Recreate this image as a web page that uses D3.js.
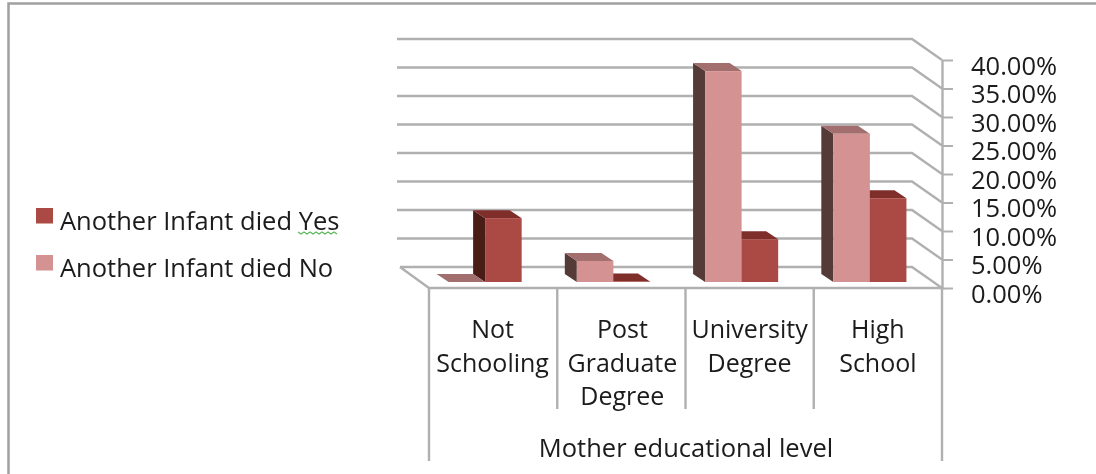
<!DOCTYPE html>
<html>
<head>
<meta charset="utf-8">
<script src="https://cdn.jsdelivr.net/npm/d3@7"></script>
<style>
  html, body { margin: 0; padding: 0; background: #fff; }
  svg { display: block; }
  text { font-family: "Open Sans", sans-serif; fill: #1a1a1a; }
</style>
</head>
<body>
<script>
// chart data
const categories = ["Not Schooling", "Post Graduate Degree", "University Degree", "High School"];
const categoryLines = [["Not", "Schooling"], ["Post", "Graduate", "Degree"], ["University", "Degree"], ["High", "School"]];
const seriesNames = ["Another Infant died No", "Another Infant died Yes"];
const legendOrder = ["Another Infant died Yes", "Another Infant died No"];
const valuesNo = [0, 3.7, 37, 26];
const valuesYes = [11.2, 0.1, 7.5, 14.7];
const yTicks = [0, 5, 10, 15, 20, 25, 30, 35, 40];
const axisTitle = "Mother educational level";

// size variables
const width = 1096, height = 474;
const left = 429, right = 942;      // front edge of the floor
const depthX = 30, depthY = 21;     // how far the back wall sits from the front
const barDepthX = 12, barDepthY = 8; // depth of a bar
const planeX = 8, planeY = 6;       // bars stand a bit behind the front edge
const fontSize = 25.5;

const colours = {
  "Another Infant died Yes": { front: "#ab4a45", top: "#7f2e2c", side: "#4a1b18" },
  "Another Infant died No": { front: "#d49392", top: "#a26e6e", side: "#553a39" }
};
const gridCol = "#b0b0b0";

const svg = d3.select("body").append("svg").attr("width", width).attr("height", height);
const soft = svg.append("defs").append("filter").attr("id", "soft");
soft.append("feGaussianBlur").attr("stdDeviation", 0.5);

const chart = svg.append("g").attr("filter", "url(#soft)");

// outer frame
chart.append("path")
  .attr("d", "M8.5,474V3.5H1096")
  .attr("fill", "none").attr("stroke", "#a0a0a0").attr("stroke-width", 2.5);

const y = d3.scaleLinear().domain([0, 40]).range([288, 60]);
const x = d3.scaleBand().domain(categories).range([left, right]);
const xBars = d3.scaleBand().domain(categories).range([left - planeX, right - planeX]).paddingInner(0.43).paddingOuter(0.215);
const xInner = d3.scaleBand().domain(seriesNames).range([0, xBars.bandwidth()]);

// walls: gridlines on the back, and the slanted bit on the right
yTicks.forEach((t) => {
  const py = y(t);
  const pts = t === 0
    ? [[left - depthX + 1, py - depthY], [left, py], [right, py], [right - depthX, py - depthY], [left - depthX + 1, py - depthY]]
    : [[left - depthX - 2, py - depthY], [right - depthX, py - depthY], [right, py]];
  chart.append("path")
    .attr("d", d3.line()(pts))
    .attr("fill", "none").attr("stroke", gridCol).attr("stroke-width", 2.4);
});

// bars
categories.forEach((c, i) => {
  // Yes goes first so the No bar hides the side of it
  [seriesNames[1], seriesNames[0]].forEach((s) => {
    const v = s === seriesNames[0] ? valuesNo[i] : valuesYes[i];
    const col = colours[s];
    const x0 = xBars(c) + xInner(s), x1 = x0 + xInner.bandwidth();
    const yBase = y(0) - planeY, yTop = y(v) - planeY;
    const g = chart.append("g");
    g.append("path").attr("fill", col.side)
      .attr("d", d3.line()([[x0, yBase], [x0, yTop], [x0 - barDepthX, yTop - barDepthY], [x0 - barDepthX, yBase - barDepthY]]) + "Z");
    g.append("path").attr("fill", col.top)
      .attr("d", d3.line()([[x0, yTop], [x1, yTop], [x1 - barDepthX, yTop - barDepthY], [x0 - barDepthX, yTop - barDepthY]]) + "Z");
    g.append("rect").attr("fill", col.front)
      .attr("x", x0).attr("y", yTop).attr("width", x1 - x0).attr("height", yBase - yTop);
  });
});

// value axis
const yAxis = d3.axisRight(y).tickValues(yTicks).tickSizeInner(11).tickSizeOuter(0).tickPadding(18)
  .tickFormat((d) => d.toFixed(2) + "%");
const axisG = chart.append("g").attr("transform", `translate(${right},0)`).call(yAxis);
axisG.select(".domain").attr("stroke", gridCol).attr("stroke-width", 2.4);
axisG.selectAll(".tick line").attr("stroke", gridCol).attr("stroke-width", 2);
axisG.selectAll(".tick text")
  .attr("font-size", fontSize).attr("dy", "0.56em").attr("fill", "#1a1a1a")
  .style("font-family", '"Open Sans", sans-serif');

// category dividers
d3.range(categories.length + 1).forEach((i) => {
  const px = i === categories.length ? right : x(categories[i]);
  const outer = i === 0 || i === categories.length;
  chart.append("line")
    .attr("x1", px).attr("x2", px).attr("y1", 288).attr("y2", outer ? 461 : 409)
    .attr("stroke", gridCol).attr("stroke-width", 2.4);
});

// category labels
const labelNudge = [-0.5, 1, 0, 0];
categories.forEach((c, i) => {
  categoryLines[i].forEach((line, j) => {
    chart.append("text")
      .attr("x", x(c) + x.bandwidth() / 2 + labelNudge[i])
      .attr("y", 338 + j * 33.5)
      .attr("text-anchor", "middle").attr("font-size", fontSize - 0.5)
      .text(line);
  });
});

chart.append("text")
  .attr("x", 686).attr("y", 457)
  .attr("text-anchor", "middle").attr("font-size", fontSize)
  .text(axisTitle);

// legend
const legendY = d3.scaleOrdinal().domain(legendOrder).range([230, 277]);
legendOrder.forEach((s) => {
  chart.append("rect")
    .attr("x", 36).attr("y", legendY(s) - 22).attr("width", 17).attr("height", 15.5)
    .attr("fill", colours[s].front);
  chart.append("text")
    .attr("x", 60).attr("y", legendY(s))
    .attr("font-size", fontSize)
    .text(s);
});

// the spell check squiggle under Yes
const squiggle = d3.range(298, 339, 3).map((px, i) => [px, 232 + (i % 2 ? 2 : 0)]);
chart.append("path")
  .attr("d", d3.line()(squiggle))
  .attr("fill", "none").attr("stroke", "#5cb85c").attr("stroke-width", 1.2);
</script>
</body>
</html>
